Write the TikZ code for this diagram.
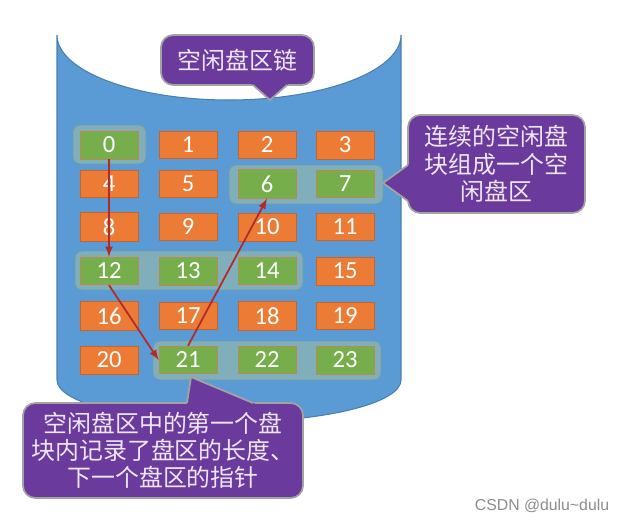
\documentclass[tikz,border=0pt]{standalone}
\usepackage{fontspec}
\setmainfont{Carlito}
\newfontfamily\cjk{Noto Sans CJK SC}
\newfontfamily\wmfont{Liberation Sans}
\usetikzlibrary{calc}

\definecolor{diskblue}{HTML}{5B9BD5}
\definecolor{diskedge}{HTML}{4A7EB0}
\definecolor{usedorange}{HTML}{EB7B35}
\definecolor{usededge}{HTML}{C8642A}
\definecolor{freegreen}{HTML}{76AE4C}
\definecolor{freeedge}{HTML}{B98A4E}
\definecolor{grpfill}{HTML}{80AEBB}
\definecolor{grpedge}{HTML}{6E9EA8}
\definecolor{bubblepurple}{HTML}{6A3A9C}
\definecolor{bubbleedge}{HTML}{A3A3A3}
\definecolor{bubbletext}{HTML}{EEE6F4}
\definecolor{ptrred}{HTML}{B22A2A}

\tikzset{
  disk/.style={fill=diskblue, draw=diskedge, line width=0.6pt},
  usedblk/.style={fill=usedorange, draw=usededge, line width=0.4pt, minimum width=1.16cm, minimum height=0.54cm, text=white, font=\fontsize{14}{14}\selectfont},
  freeblk/.style={usedblk, fill=freegreen, draw=freeedge},
  grp/.style={fill=grpfill, draw=grpedge, line width=0.5pt, rounded corners=4pt},
  bubble/.style={fill=bubblepurple, draw=bubbleedge, line width=1pt, rounded corners=7pt, text=bubbletext, align=center, font=\cjk\fontsize{13.6}{15.5}\selectfont},
  bubbletip/.style={fill=bubblepurple},
  bubbleside/.style={draw=bubbleedge, line width=1pt},
  nextptr/.style={draw=ptrred, line width=1pt, -latex},
}

\begin{document}
\begin{tikzpicture}[x=0.02cm,y=-0.02cm]
\useasboundingbox (0,0) rectangle (617,521);

\filldraw[disk] (57,380) -- (57,35) .. controls (57,70.9) and (134,100) .. (229,100) .. controls (324,100) and (401,70.9) .. (401,35) -- (401,380) .. controls (401,403.2) and (324,422) .. (229,422) .. controls (134,422) and (57,403.2) .. (57,380) -- cycle; %disk


\filldraw[grp] (73,125) rectangle (146,164); %free area 0
\filldraw[grp] (229,165) rectangle (383,204); %free area 6,7
\filldraw[grp] (75,251) rectangle (303,290); %free area 12,13,14
\filldraw[grp] (153,341) rectangle (381,380); %free area 21,22,23


\node[freeblk] (b0) at (109,145) {0};
\node[usedblk] (b1) at (188,145) {1};
\node[usedblk] (b2) at (267,145) {2};
\node[usedblk] (b3) at (345,145) {3};
\node[usedblk] (b4) at (109,184) {4};
\node[usedblk] (b5) at (188,184) {5};
\node[freeblk] (b6) at (267,184) {6};
\node[freeblk] (b7) at (345,184) {7};
\node[usedblk] (b8) at (109,227) {8};
\node[usedblk] (b9) at (188,227) {9};
\node[usedblk] (b10) at (267,227) {10};
\node[usedblk] (b11) at (345,227) {11};
\node[freeblk] (b12) at (109,271) {12};
\node[freeblk] (b13) at (188,271) {13};
\node[freeblk] (b14) at (267,271) {14};
\node[usedblk] (b15) at (345,271) {15};
\node[usedblk] (b16) at (109,316) {16};
\node[usedblk] (b17) at (188,316) {17};
\node[usedblk] (b18) at (267,316) {18};
\node[usedblk] (b19) at (345,316) {19};
\node[usedblk] (b20) at (109,360) {20};
\node[freeblk] (b21) at (188,360) {21};
\node[freeblk] (b22) at (267,360) {22};
\node[freeblk] (b23) at (345,360) {23};


\draw[nextptr] (b0.south) -- (b12.north); %0 to 12
\draw[nextptr] (b12.south) -- (b21.west); %12 to 21
\draw[nextptr] (b21.north) -- (b6.south); %21 to 6


\node[bubble, minimum width=3.06cm, minimum height=1cm] (chain) at (237.5,60) {空闲盘区链};
\coordinate (chaintip) at (270,100);
\fill[bubbletip] ($(chaintip)!1.2!(253,85)$) -- (chaintip) -- ($(chaintip)!1.2!(287,85)$) -- cycle;
\draw[bubbleside] (253,85) -- (chaintip) -- (287,85);

\node[bubble, minimum width=3.54cm, minimum height=1.96cm] (area) at (496.5,164) {连续的空闲盘\\块组成一个空\\闲盘区};
\coordinate (areatip) at (383,183);
\fill[bubbletip] ($(areatip)!1.2!(408,165)$) -- (areatip) -- ($(areatip)!1.2!(408,201)$) -- cycle;
\draw[bubbleside] (408,165) -- (areatip) -- (408,201);

\node[bubble, minimum width=5.6cm, minimum height=1.9cm] (first) at (163,450.5) {空闲盘区中的第一个盘\\块内记录了盘区的长度、\\下一个盘区的指针};
\coordinate (firsttip) at (191,377);
\fill[bubbletip] ($(firsttip)!1.2!(187,403)$) -- (firsttip) -- ($(firsttip)!1.2!(253,403)$) -- cycle;
\draw[bubbleside] (187,403) -- (firsttip) -- (253,403);


\node[text=black!45, font=\wmfont\fontsize{9}{9}\selectfont] (mark) at (542,506) {CSDN @dulu\textasciitilde dulu};

\end{tikzpicture}
\end{document}
